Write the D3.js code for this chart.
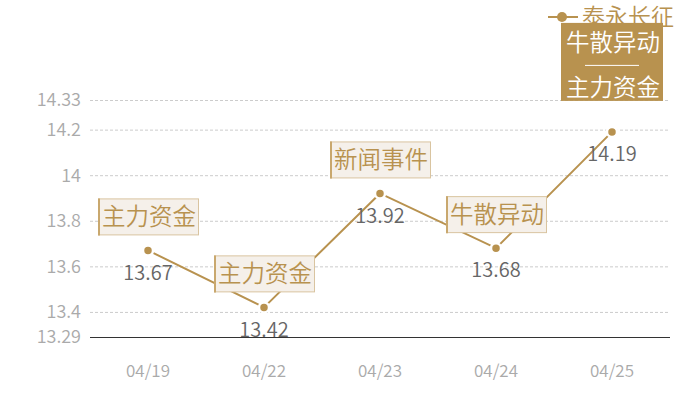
<!DOCTYPE html>
<html><head><meta charset="utf-8">
<script src="https://cdn.jsdelivr.net/npm/d3@7/dist/d3.min.js"></script>
<style>body{margin:0;background:#fff}svg{display:block}</style>
</head><body><svg id="c" width="700" height="400"></svg>
<script>
const dates = ["04/19","04/22","04/23","04/24","04/25"];
const values = [13.67,13.42,13.92,13.68,14.19];
const tags = [["主力资金"],["主力资金"],["新闻事件"],["牛散异动"],["牛散异动","——","主力资金"]];
const yTicks = [13.29,13.4,13.6,13.8,14,14.2,14.33];
const seriesName = "泰永长征";

const gold = "#b8924f";
const font = "'Noto Sans CJK SC','Noto Sans',sans-serif";
const svg = d3.select("#c");
const x = d3.scaleBand().domain(dates).range([90,670]);
const y = d3.scaleLinear().domain([13.29,14.33]).range([337,100]);
const cx = d => x(d) + x.bandwidth()/2;

// grid
svg.append("g").selectAll("line").data(yTicks.slice(1)).join("line")
  .attr("x1",90).attr("x2",670).attr("y1",d=>y(d)+0.5).attr("y2",d=>y(d)+0.5)
  .attr("stroke","#ccc").attr("stroke-dasharray","3,2").attr("stroke-width",1);
// y labels
svg.append("g").selectAll("text").data(yTicks).join("text")
  .attr("x",81).attr("y",d=>y(d)).attr("dy","0.36em").attr("text-anchor","end")
  .attr("fill","#aaa").attr("font-size",18).attr("font-weight",350).attr("font-family",font).text(d=>d);
// x axis
svg.append("line").attr("x1",90).attr("x2",670).attr("y1",y(13.29)+0.5).attr("y2",y(13.29)+0.5)
  .attr("stroke","#333").attr("stroke-width",1);
svg.append("g").selectAll("text").data(dates).join("text")
  .attr("x",d=>cx(d)).attr("y",371).attr("dy","0.36em").attr("text-anchor","middle")
  .attr("fill","#aaa").attr("font-size",17).attr("font-weight",350).attr("font-family",font).text(d=>d);

const pts = dates.map((d,i)=>({d,v:values[i],t:tags[i]}));
// line
svg.append("path").datum(pts)
  .attr("d",d3.line().x(p=>cx(p.d)).y(p=>y(p.v)))
  .attr("fill","none").attr("stroke",gold).attr("stroke-width",2);
// points
svg.append("g").selectAll("circle").data(pts).join("circle")
  .attr("cx",p=>cx(p.d)).attr("cy",p=>y(p.v)).attr("r",5)
  .attr("fill",gold).attr("stroke","#fff").attr("stroke-width",2.5);
// value labels
svg.append("g").selectAll("text").data(pts).join("text")
  .attr("x",p=>cx(p.d)).attr("y",p=>y(p.v)+22).attr("dy","0.36em").attr("text-anchor","middle")
  .attr("fill","#666").attr("font-size",20).attr("font-weight",350).attr("font-family",font).text(p=>p.v.toFixed(2));

// legend
svg.append("line").attr("x1",548).attr("x2",578).attr("y1",17).attr("y2",17).attr("stroke",gold).attr("stroke-width",2);
svg.append("circle").attr("cx",562).attr("cy",17).attr("r",5).attr("fill",gold);
svg.append("text").attr("x",582).attr("y",17).attr("dy","0.36em").attr("fill",gold)
  .attr("font-size",23).attr("font-weight",350).attr("font-family",font).text(seriesName);

// annotations
pts.forEach(p=>{
  const g = svg.append("g");
  const px = cx(p.d), py = y(p.v);
  if (p.t.length === 1) {
    const w = 100, h = 36, bx = px - w/2, by = py - 16 - h;
    g.append("rect").attr("x",bx+0.5).attr("y",by+0.5).attr("width",w).attr("height",h)
      .attr("fill","#f5f0ea").attr("stroke","#d9c4a0").attr("stroke-width",1);
    g.append("line").attr("x1",bx+1).attr("x2",bx+1).attr("y1",by).attr("y2",by+h+1)
      .attr("stroke","#c9a86e").attr("stroke-width",2);
    g.append("text").attr("x",px+1).attr("y",by+h/2).attr("dy","0.36em").attr("text-anchor","middle")
      .attr("fill",gold).attr("font-size",23.5).attr("font-weight",350).attr("font-family",font).text(p.t[0]);
  } else {
    const w = 102, h = 78, bx = px - w/2, by = py - 31 - h;
    g.append("rect").attr("x",bx).attr("y",by).attr("width",w).attr("height",h).attr("fill",gold);
    g.append("text").attr("x",px+1).attr("y",by+20).attr("dy","0.36em").attr("text-anchor","middle")
      .attr("fill","#fff").attr("font-size",23.5).attr("font-weight",350).attr("font-family",font).text(p.t[0]);
    g.append("line").attr("x1",px-27).attr("x2",px+27).attr("y1",by+42.5).attr("y2",by+42.5)
      .attr("stroke","#fff").attr("stroke-width",1);
    g.append("text").attr("x",px+1).attr("y",by+65).attr("dy","0.36em").attr("text-anchor","middle")
      .attr("fill","#fff").attr("font-size",23.5).attr("font-weight",350).attr("font-family",font).text(p.t[2]);
  }
});
</script></body></html>
